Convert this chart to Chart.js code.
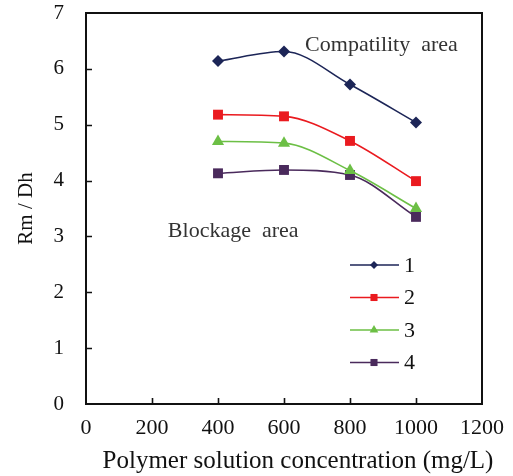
<!DOCTYPE html>
<html>
<head>
<meta charset="utf-8">
<script src="https://cdn.jsdelivr.net/npm/chart.js@4.4.0/dist/chart.umd.min.js"></script>
<style>
html, body { margin: 0; padding: 0; background: #fff; }
#wrap { width: 513px; height: 476px; }
</style>
</head>
<body>
<div id="wrap"><canvas id="chart" width="513" height="476"></canvas></div>
<script>
// data
var concentrations = [400, 600, 800, 1000];
var series_names = ["1", "2", "3", "4"];
var series_1 = [6.14, 6.31, 5.72, 5.04];
var series_2 = [5.18, 5.15, 4.71, 3.99];
var series_3 = [4.70, 4.67, 4.18, 3.50];
var series_4 = [4.13, 4.19, 4.10, 3.35];
var x_ticks = [0, 200, 400, 600, 800, 1000, 1200];
var y_ticks = [0, 1, 2, 3, 4, 5, 6, 7];
var x_title = "Polymer solution concentration (mg/L)";
var y_title = "Rm / Dh";

var colors = ["#1c2557", "#ea1a1f", "#6cbf45", "#4a2a5c"];
var point_styles = ["rectRot", "rect", "triangle", "rect"];
var point_sizes = [6, 7, 7, 7];
var all_series = [series_1, series_2, series_3, series_4];

var FONT = "'Liberation Serif', 'Times New Roman', serif";

function Make_Dataset(i) {
    var pts = [];
    for (var j = 0; j < concentrations.length; j++) {
        pts.push({ x: concentrations[j], y: all_series[i][j] });
    }
    return {
        label: series_names[i],
        data: pts,
        borderColor: colors[i],
        backgroundColor: colors[i],
        borderWidth: 1.6,
        pointStyle: point_styles[i],
        pointRadius: point_sizes[i],
        pointBorderWidth: 0,
        cubicInterpolationMode: "monotone",
        fill: false
    };
}

var datasets = [];
for (var i = 0; i < all_series.length; i++) {
    datasets.push(Make_Dataset(i));
}

// frame, inward ticks, notes, x title and the in-plot legend
var extras = {
    id: "extras",
    afterDraw: function(chart) {
        var ctx = chart.ctx;
        var a = chart.chartArea;
        var xs = chart.scales.x;
        var ys = chart.scales.y;
        ctx.save();
        ctx.strokeStyle = "#111";
        ctx.lineWidth = 2;
        ctx.strokeRect(a.left, a.top, a.right - a.left, a.bottom - a.top);

        ctx.lineWidth = 1.6;
        ctx.beginPath();
        for (var i = 1; i < x_ticks.length - 1; i++) {
            var px = Math.round(xs.getPixelForValue(x_ticks[i])) + 0.5;
            ctx.moveTo(px, a.bottom);
            ctx.lineTo(px, a.bottom - 6);
        }
        for (var i = 1; i < y_ticks.length - 1; i++) {
            var py = Math.round(ys.getPixelForValue(y_ticks[i])) + 0.5;
            ctx.moveTo(a.left, py);
            ctx.lineTo(a.left + 6, py);
        }
        ctx.stroke();

        ctx.fillStyle = "#333";
        ctx.font = "22px " + FONT;
        ctx.textBaseline = "middle";
        ctx.textAlign = "left";
        ctx.fillText("Compatility  area", xs.getPixelForValue(664), ys.getPixelForValue(6.42));
        ctx.fillText("Blockage  area", xs.getPixelForValue(248), ys.getPixelForValue(3.09));

        // x axis title, a bit right of centre like the original
        ctx.fillStyle = "#111";
        ctx.font = "25px " + FONT;
        ctx.textAlign = "center";
        ctx.fillText(x_title, 298, 461);

        // legend
        ctx.textAlign = "left";
        var lx = 350, ly = 265, gap = 32.5;
        for (var i = 0; i < datasets.length; i++) {
            var y = ly + i * gap;
            ctx.strokeStyle = colors[i];
            ctx.lineWidth = 1.6;
            ctx.beginPath();
            ctx.moveTo(lx, y);
            ctx.lineTo(lx + 49, y);
            ctx.stroke();
            ctx.fillStyle = colors[i];
            Chart.helpers.drawPoint(ctx, { pointStyle: point_styles[i], radius: point_sizes[i] - 2, borderWidth: 0 }, lx + 24, y);
            ctx.fillStyle = "#111";
            ctx.font = "22px " + FONT;
            ctx.fillText(series_names[i], lx + 54, y + 1);
        }
        ctx.restore();
    }
};

var config = {
    type: "line",
    data: { datasets: datasets },
    options: {
        responsive: false,
        animation: false,
        layout: { padding: { top: 13, right: 31, left: 14, bottom: 0 } },
        plugins: { legend: { display: false }, tooltip: { enabled: false } },
        scales: {
            x: {
                type: "linear",
                min: 0,
                max: 1200,
                afterBuildTicks: function(scale) {
                    scale.ticks = x_ticks.map(function(v) { return { value: v }; });
                },
                afterFit: function(scale) {
                    scale.height = 72;
                    scale.paddingLeft = 0;
                    scale.paddingRight = 0;
                },
                grid: { display: false, drawTicks: false },
                border: { display: false },
                ticks: {
                    color: "#111", padding: 11, maxRotation: 0,
                    font: { family: FONT, size: 22 },
                    callback: function(v) { return String(v); }
                },
                title: { display: false }
            },
            y: {
                type: "linear",
                min: 0,
                max: 7,
                afterBuildTicks: function(scale) {
                    scale.ticks = y_ticks.map(function(v) { return { value: v }; });
                },
                afterFit: function(scale) {
                    scale.width = 72;
                    scale.paddingTop = 0;
                    scale.paddingBottom = 0;
                },
                grid: { display: false, drawTicks: false },
                border: { display: false },
                ticks: {
                    color: "#111", padding: 22,
                    font: { family: FONT, size: 21 },
                    callback: function(v) { return String(v); }
                },
                title: {
                    display: true,
                    text: y_title,
                    color: "#111",
                    font: { family: FONT, size: 21 },
                    padding: { top: 0, bottom: 0 }
                }
            }
        }
    },
    plugins: [extras]
};

window.onload = function() {
    var ctx = document.getElementById("chart").getContext("2d");
    new Chart(ctx, config);
};
</script>
</body>
</html>
